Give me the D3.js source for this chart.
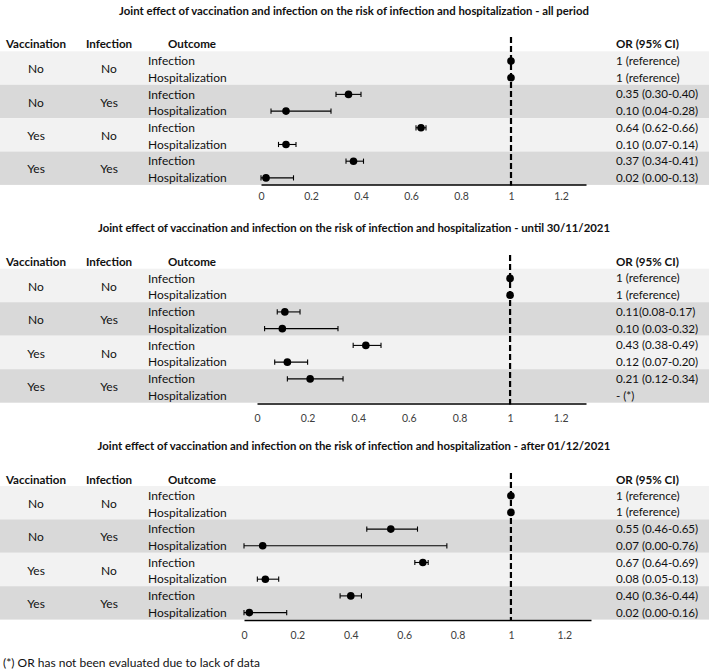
<!DOCTYPE html>
<html>
<head>
<meta charset="utf-8">
<script src="https://cdn.jsdelivr.net/npm/d3@7"></script>
<style>
  html, body { margin: 0; padding: 0; background: #fff; }
  svg { display: block; font-family: Lato, "Open Sans", sans-serif; }
</style>
</head>
<body>
<svg id="chart" width="709" height="671"></svg>
<script>
// ---- Data ----
const vaccination = ["No", "No", "Yes", "Yes"];
const infection = ["No", "Yes", "No", "Yes"];
const outcomes = ["Infection", "Hospitalization"];
const headers = ["Vaccination", "Infection", "Outcome", "OR (95% CI)"];
const tickValues = [0, 0.2, 0.4, 0.6, 0.8, 1, 1.2];
const tickLabels = ["0", "0.2", "0.4", "0.6", "0.8", "1", "1.2"];

const titles = [
  "Joint effect of vaccination and infection on the risk of infection and hospitalization - all period",
  "Joint effect of vaccination and infection on the risk of infection and hospitalization - until 30/11/2021",
  "Joint effect of vaccination and infection on the risk of infection and hospitalization - after 01/12/2021"
];

const p1OR = [1, 1, 0.35, 0.10, 0.64, 0.10, 0.37, 0.02];
const p1Lo = [null, null, 0.30, 0.04, 0.62, 0.07, 0.34, 0.00];
const p1Hi = [null, null, 0.40, 0.28, 0.66, 0.14, 0.41, 0.13];
const p1Text = ["1 (reference)", "1 (reference)", "0.35 (0.30-0.40)", "0.10 (0.04-0.28)",
                "0.64 (0.62-0.66)", "0.10 (0.07-0.14)", "0.37 (0.34-0.41)", "0.02 (0.00-0.13)"];

const p2OR = [1, 1, 0.11, 0.10, 0.43, 0.12, 0.21, null];
const p2Lo = [null, null, 0.08, 0.03, 0.38, 0.07, 0.12, null];
const p2Hi = [null, null, 0.17, 0.32, 0.49, 0.20, 0.34, null];
const p2Text = ["1 (reference)", "1 (reference)", "0.11(0.08-0.17)", "0.10 (0.03-0.32)",
                "0.43 (0.38-0.49)", "0.12 (0.07-0.20)", "0.21 (0.12-0.34)", "- (*)"];

const p3OR = [1, 1, 0.55, 0.07, 0.67, 0.08, 0.40, 0.02];
const p3Lo = [null, null, 0.46, 0.00, 0.64, 0.05, 0.36, 0.00];
const p3Hi = [null, null, 0.65, 0.76, 0.69, 0.13, 0.44, 0.16];
const p3Text = ["1 (reference)", "1 (reference)", "0.55 (0.46-0.65)", "0.07 (0.00-0.76)",
                "0.67 (0.64-0.69)", "0.08 (0.05-0.13)", "0.40 (0.36-0.44)", "0.02 (0.00-0.16)"];

const footnote = "(*) OR has not been evaluated due to lack of data";

// ---- Layout ----
const W = 709;
const layouts = [
  { titleY: 11, headerY: 44, bandTop: 51.3, bandH: 33.4, axisY: 184.5, tickY: 196.5, x0: 261, x1: 586, dashTop: 37 },
  { titleY: 228, headerY: 262, bandTop: 268.7, bandH: 33.5, axisY: 403.5, tickY: 418, x0: 257, x1: 586, dashTop: 255 },
  { titleY: 446, headerY: 479.5, bandTop: 486, bandH: 33.4, axisY: 620, tickY: 635, x0: 244, x1: 591, dashTop: 473 }
];
const panels = [
  { or: p1OR, lo: p1Lo, hi: p1Hi, text: p1Text },
  { or: p2OR, lo: p2Lo, hi: p2Hi, text: p2Text },
  { or: p3OR, lo: p3Lo, hi: p3Hi, text: p3Text }
];

const svg = d3.select("#chart");
const colVacc = 36, colInf = 109, colOut = 148, colOutHead = 192, colOR = 616;
const bandColors = ["#f2f2f2", "#d9d9d9"];
const textColor = "#111";

panels.forEach((p, pi) => {
  const L = layouts[pi];
  const g = svg.append("g");
  const x = d3.scaleLinear().domain([0, 1.3]).range([L.x0, L.x1]);

  // title
  g.append("text").attr("x", 354).attr("y", L.titleY).attr("dy", "0.35em")
    .attr("text-anchor", "middle").attr("font-weight", "bold").attr("font-size", 11.35)
    .attr("fill", textColor).text(titles[pi]);

  // headers
  const hx = [colVacc, colInf, colOutHead, colOR];
  const ha = ["middle", "middle", "middle", "start"];
  headers.forEach((h, i) => {
    g.append("text").attr("x", hx[i]).attr("y", L.headerY).attr("dy", "0.35em")
      .attr("text-anchor", ha[i]).attr("font-weight", "bold").attr("font-size", 11.6)
      .attr("fill", textColor).text(h);
  });

  // bands
  vaccination.forEach((v, gi) => {
    const top = L.bandTop + gi * L.bandH;
    g.append("rect").attr("x", 0).attr("y", top).attr("width", W).attr("height", L.bandH)
      .attr("fill", bandColors[gi % 2]);
    g.append("text").attr("x", colVacc).attr("y", top + L.bandH / 2 + 1).attr("dy", "0.35em")
      .attr("text-anchor", "middle").attr("font-size", 12).attr("fill", textColor).text(v);
    g.append("text").attr("x", colInf).attr("y", top + L.bandH / 2 + 1).attr("dy", "0.35em")
      .attr("text-anchor", "middle").attr("font-size", 12).attr("fill", textColor).text(infection[gi]);
  });

  const rowY = i => {
    const gi = Math.floor(i / 2), r = i % 2;
    return L.bandTop + gi * L.bandH + L.bandH * (r === 0 ? 0.29 : 0.79);
  };

  // outcome labels + OR text
  p.text.forEach((t, i) => {
    g.append("text").attr("x", colOut).attr("y", rowY(i)).attr("dy", "0.35em")
      .attr("font-size", 12).attr("fill", textColor).text(outcomes[i % 2]);
    g.append("text").attr("x", colOR).attr("y", rowY(i)).attr("dy", "0.35em")
      .attr("font-size", 11.6).attr("fill", textColor).text(t);
  });

  // axis
  const axis = d3.axisBottom(x).tickValues(tickValues)
    .tickFormat((d, i) => tickLabels[i]).tickSize(0).tickPadding(0);
  const ag = g.append("g").attr("transform", `translate(0,${L.axisY})`).call(axis);
  ag.select(".domain").attr("stroke", "#000").attr("stroke-width", 1.3);
  ag.selectAll(".tick text").attr("font-family", "Lato, sans-serif").attr("font-size", 10.5)
    .attr("fill", "#404040").attr("y", L.tickY - L.axisY).attr("dy", "0.35em");

  // reference dashed line
  g.append("line").attr("x1", x(1)).attr("x2", x(1)).attr("y1", L.dashTop).attr("y2", L.axisY + 1)
    .attr("stroke", "#000").attr("stroke-width", 2.2).attr("stroke-dasharray", "6,3");

  // error bars
  p.or.forEach((v, i) => {
    if (v == null || p.lo[i] == null) return;
    const y = rowY(i);
    const xl = x(p.lo[i]), xh = x(p.hi[i]);
    g.append("line").attr("x1", xl).attr("x2", xh).attr("y1", y).attr("y2", y)
      .attr("stroke", "#000").attr("stroke-width", 1.1);
    [xl, xh].forEach(xx => {
      g.append("line").attr("x1", xx).attr("x2", xx).attr("y1", y - 2.6).attr("y2", y + 2.6)
        .attr("stroke", "#000").attr("stroke-width", 1.1);
    });
  });
  // points
  p.or.forEach((v, i) => {
    if (v == null) return;
    g.append("circle").attr("cx", x(v)).attr("cy", rowY(i)).attr("r", 3.8).attr("fill", "#000");
  });
});

svg.append("text").attr("x", 3).attr("y", 663).attr("dy", "0.35em")
  .attr("font-size", 12).attr("fill", textColor).text(footnote);
</script>
</body>
</html>
